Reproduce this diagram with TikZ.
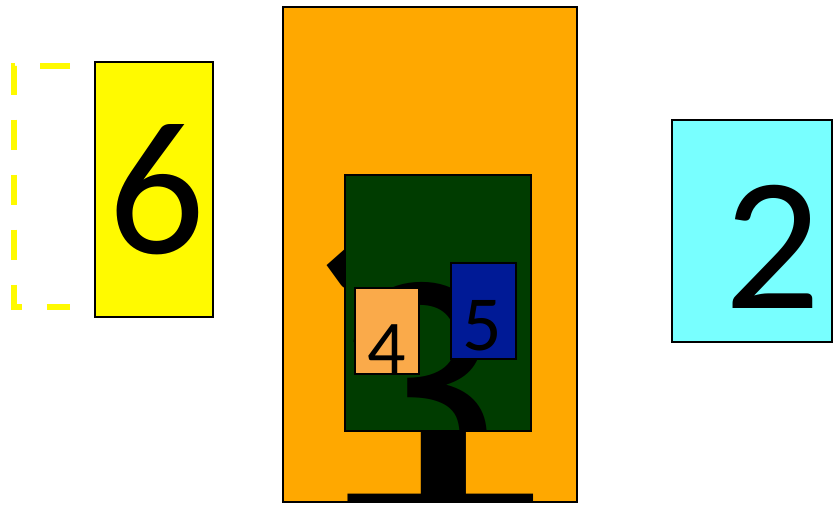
\documentclass[tikz,border=0pt]{standalone}
\usepackage{fontspec}
\setmainfont{Carlito}
\definecolor{cOrange}{RGB}{255,168,0}
\definecolor{cGreen}{RGB}{0,60,0}
\definecolor{cLightOrange}{RGB}{250,170,74}
\definecolor{cNavy}{RGB}{0,26,150}
\definecolor{cCyan}{RGB}{120,255,255}
\definecolor{cYellow}{RGB}{255,250,0}
\tikzset{
  boxnode/.style={draw=black, line width=2pt, inner sep=0pt, outer sep=0pt},
  digit/.style={inner sep=0pt, outer sep=0pt, anchor=base, text=black},
  bracket/.style={draw=cYellow, line width=6pt, dash pattern=on 30pt off 25pt, line join=miter},
}
\newcommand{\fs}[1]{\fontsize{#1}{#1}\selectfont}
\begin{document}
\begin{tikzpicture}[x=1pt,y=-1pt]
\useasboundingbox (0,0) rectangle (834,504);
% dashed bracket
\coordinate (bA) at (70,65.5);
\coordinate (bB) at (14,307);
\coordinate (bC) at (70,307);
\path[bracket] (bA) -| (bB) -- (bC);
% yellow box 6
\node[boxnode, fill=cYellow, minimum width=118pt, minimum height=255pt] (y6) at (154,189) {};
\node[digit] (t6) at (157,253) {\fs{191}6};
% cyan box 2
\node[boxnode, fill=cCyan, minimum width=160pt, minimum height=222.5pt] (c2) at (752,230.75) {};
\node[digit] (t2) at (772.5,308) {\fs{190}2};
% orange box 1
\node[boxnode, fill=cOrange, minimum width=293.5pt, minimum height=495pt] (o1) at (429.75,254.5) {};
\begin{scope}
  \clip (o1.south west) rectangle (o1.north east);
  \node[digit] (t1) at (419,528) {\fs{550}1};
\end{scope}
\node[draw=black, line width=2pt, minimum width=293.5pt, minimum height=495pt, inner sep=0pt] (o1b) at (o1.center) {};
% green box 3
\node[boxnode, fill=cGreen, minimum width=186.5pt, minimum height=255.5pt] (g3) at (437.75,302.75) {};
\begin{scope}
  \clip (g3.south west) rectangle (g3.north east);
  \node[digit] (t3) at (416,496) {\fs{330}3};
\end{scope}
\node[draw=black, line width=2pt, minimum width=186.5pt, minimum height=255.5pt, inner sep=0pt] (g3b) at (g3.center) {};
% light orange box 4
\node[boxnode, fill=cLightOrange, minimum width=63.5pt, minimum height=86.5pt] (l4) at (386.75,330.75) {};
\node[digit] (t4) at (386.5,373) {\fs{76}4};
% navy box 5
\node[boxnode, fill=cNavy, minimum width=65pt, minimum height=96pt] (n5) at (483.5,311) {};
\node[digit] (t5) at (482.5,350) {\fs{78}5};
\end{tikzpicture}
\end{document}
